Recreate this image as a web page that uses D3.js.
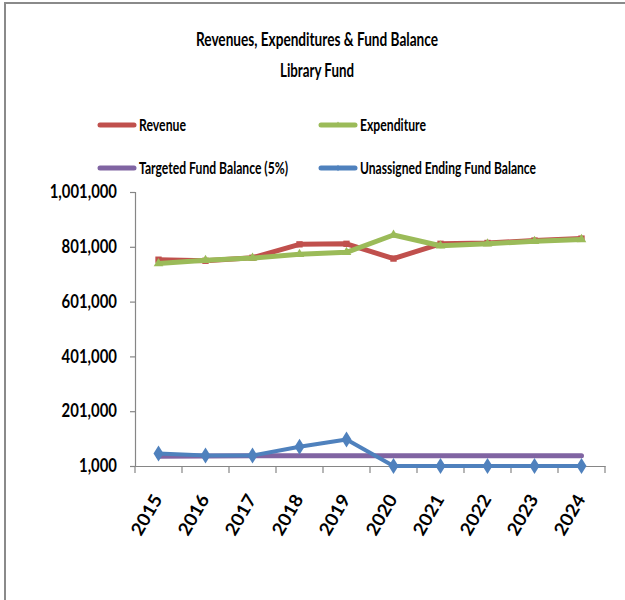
<!DOCTYPE html>
<html>
<head>
<meta charset="utf-8">
<script src="https://cdn.jsdelivr.net/npm/d3@7"></script>
<style>
  html, body { margin: 0; padding: 0; background: #fff; }
  svg { display: block; }
  text { font-family: Lato, "Open Sans", "Liberation Sans", sans-serif; font-weight: bold; fill: #000; }
</style>
</head>
<body>
<script>
// Fiscal years shown on the category axis
const years = ["2015", "2016", "2017", "2018", "2019", "2020", "2021", "2022", "2023", "2024"];

// Series values (dollars)
const revenue      = [754000, 750000, 761000, 810000, 812000, 758000, 812000, 815000, 824000, 831000];
const expenditure  = [740000, 752000, 760000, 774000, 781000, 844000, 805000, 812000, 821000, 828000];
const targetedFB   = [37000, 37500, 38000, 38000, 38000, 38000, 38000, 38000, 38000, 38000];
const unassignedFB = [47000, 39000, 39000, 71000, 98000, 1000, 1000, 1000, 1000, 1000];

// Value-axis tick labels
const yTicks = [1000, 201000, 401000, 601000, 801000, 1001000];

const titleLines = ["Revenues, Expenditures & Fund Balance", "Library Fund"];
const titleWidths = [242, 74];

const series = [
  { name: "Revenue", values: revenue, color: "#C0504D", marker: "square", width: 5, textW: 47 },
  { name: "Expenditure", values: expenditure, color: "#9BBB59", marker: "triangle", width: 5, textW: 66 },
  { name: "Targeted Fund Balance (5%)", values: targetedFB, color: "#8064A2", marker: null, width: 5, textW: 149 },
  { name: "Unassigned Ending Fund Balance", values: unassignedFB, color: "#4F81BD", marker: "diamond", width: 4, textW: 176 }
];

const W = 625, H = 600;
const svg = d3.select("body").append("svg").attr("width", W).attr("height", H);

// outer chart frame (top and left edges)
svg.append("rect").attr("x", 5).attr("y", 3).attr("width", W + 10).attr("height", H + 10)
  .attr("fill", "#fff").attr("stroke", "#8a8a8a").attr("stroke-width", 2);

// title
svg.selectAll("text.title").data(titleLines).join("text")
  .attr("class", "title")
  .attr("x", 317).attr("y", (d, i) => 46 + i * 30.5)
  .attr("text-anchor", "middle")
  .attr("textLength", (d, i) => titleWidths[i])
  .attr("lengthAdjust", "spacingAndGlyphs")
  .style("font-size", "19px")
  .text(d => d);

const x = d3.scaleBand().domain(years).range([135, 605]);
const y = d3.scaleLinear().domain([1000, 1001000]).range([466, 192]);
const cx = d => x(d) + x.bandwidth() / 2;

// value axis
const fmt = d3.format(",");
const yAxis = svg.append("g").attr("transform", "translate(135,0)")
  .call(d3.axisLeft(y).tickValues(yTicks).tickSize(5).tickPadding(13).tickFormat(fmt));
yAxis.selectAll("path, line").attr("stroke", "#868686").attr("stroke-width", 1.2);
yAxis.selectAll("text")
  .style("font-size", "18px")
  .style("font-family", "Lato, \"Open Sans\", sans-serif")
  .style("font-weight", "bold").attr("fill", "#000")
  .attr("lengthAdjust", "spacingAndGlyphs")
  .attr("textLength", d => {
    const s = fmt(d);
    const commas = s.split(",").length - 1;
    return (s.length - commas) * 8.7 + commas * 3.2;
  });

// category axis
const xAxis = svg.append("g").attr("transform", "translate(0,466)")
  .call(d3.axisBottom(x).tickSizeInner(0).tickSizeOuter(0).tickFormat(""));
xAxis.select("path").attr("stroke", "#868686").attr("stroke-width", 1.2);
const bounds = years.map(d => x(d)).concat([x.range()[1]]);
xAxis.selectAll("line.sep").data(bounds).join("line")
  .attr("class", "sep")
  .attr("x1", d => d).attr("x2", d => d).attr("y1", 0).attr("y2", 7)
  .attr("stroke", "#868686").attr("stroke-width", 1.2);

svg.append("g").selectAll("text").data(years).join("text")
  .attr("transform", d => `translate(${cx(d) + 4.5},499) rotate(-60)`)
  .attr("text-anchor", "end")
  .attr("textLength", 44)
  .attr("lengthAdjust", "spacingAndGlyphs")
  .style("font-size", "18px")
  .text(d => d);

// lines and markers
const line = d3.line().x((v, i) => cx(years[i])).y(v => y(v));

function drawMarker(g, type, color, size, scale) {
  if (!type) return;
  if (type === "diamond") {
    g.append("path").attr("d", `M0,${-8 * scale}L${5 * scale},0L0,${8 * scale}L${-5 * scale},0Z`).attr("fill", color);
  } else {
    const sym = type === "square" ? d3.symbolSquare : d3.symbolTriangle;
    g.append("path").attr("d", d3.symbol().type(sym).size(size)()).attr("fill", color);
  }
}

series.forEach(s => {
  const g = svg.append("g");
  g.append("path").datum(s.values)
    .attr("d", line)
    .attr("fill", "none").attr("stroke", s.color)
    .attr("stroke-width", s.width).attr("stroke-linejoin", "round").attr("stroke-linecap", "round");
  s.values.forEach((v, i) => {
    const m = g.append("g").attr("transform", `translate(${cx(years[i])},${y(v)})`);
    drawMarker(m, s.marker, s.color, 40, 1);
  });
});

// legend
const legendPos = [
  { lx: 100, ty: 125 }, { lx: 321, ty: 125 },
  { lx: 100, ty: 168 }, { lx: 321, ty: 168 }
];
series.forEach((s, i) => {
  const p = legendPos[i];
  const g = svg.append("g").attr("transform", `translate(${p.lx},${p.ty})`);
  g.append("line").attr("x1", 0).attr("x2", 34).attr("y1", 0).attr("y2", 0)
    .attr("stroke", s.color).attr("stroke-width", 5).attr("stroke-linecap", "round");
  const m = g.append("g").attr("transform", "translate(17,0)");
  drawMarker(m, s.marker, s.color, 16, 0.4);
  g.append("text").attr("x", 39).attr("y", 0).attr("dy", "0.35em")
    .attr("textLength", s.textW).attr("lengthAdjust", "spacingAndGlyphs")
    .style("font-size", "17.5px").text(s.name);
});
</script>
</body>
</html>
